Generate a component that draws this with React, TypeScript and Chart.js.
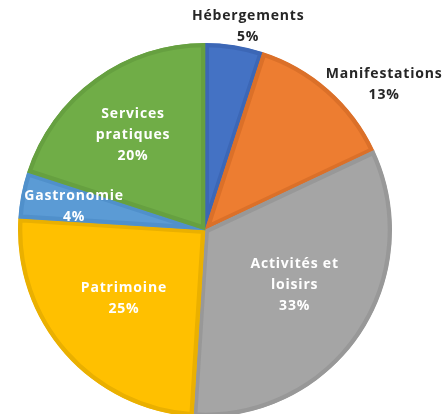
import React, { useEffect, useRef } from "react";
import { Chart, registerables } from "chart.js";

Chart.register(...registerables);

const categories = ["Hébergements", "Manifestations", "Activités et loisirs", "Patrimoine", "Gastronomie", "Services pratiques"];
const labelLines = [["Hébergements"], ["Manifestations"], ["Activités et", "loisirs"], ["Patrimoine"], ["Gastronomie"], ["Services", "pratiques"]];
const values = [5, 13, 33, 25, 4, 20];

const fills = ["#4472C4", "#ED7D31", "#A5A5A5", "#FFC000", "#5B9BD5", "#70AD47"];
const borders = ["#3C67B6", "#DB7029", "#989898", "#EAB000", "#5090CB", "#66A040"];
const textColors = ["#262626", "#262626", "#FFFFFF", "#FFFFFF", "#FFFFFF", "#FFFFFF"];
// label placement: radius factor and nudge
const labelPlace = [
  [1.1, 11, 0],
  [1.23, 27, 27],
  [0.56, 3, -4],
  [0.578, 0, -3],
  [0.713, 0, 1],
  [0.655, 0, 4],
];

const labelPlugin = {
  id: "sliceLabels",
  afterDatasetsDraw(chart: any) {
    const ctx = chart.ctx;
    const meta = chart.getDatasetMeta(0);
    const total = values.reduce((a, b) => a + b, 0);
    ctx.save();
    ctx.font = "bold 14px 'Open Sans'";
    (ctx as any).letterSpacing = "0.8px";
    ctx.textAlign = "center";
    ctx.textBaseline = "middle";
    meta.data.forEach((arc: any, i: number) => {
      const p = arc.getProps(["x", "y", "startAngle", "endAngle", "outerRadius"], true);
      const mid = (p.startAngle + p.endAngle) / 2;
      const [f, dx, dy] = labelPlace[i];
      const cx = p.x + Math.cos(mid) * p.outerRadius * f + dx;
      const cy = p.y + Math.sin(mid) * p.outerRadius * f + dy;
      const lines = [...labelLines[i], Math.round((values[i] / total) * 100) + "%"];
      const lh = 21;
      const y0 = cy - ((lines.length - 1) * lh) / 2;
      ctx.fillStyle = textColors[i];
      lines.forEach((l, j) => ctx.fillText(l, cx, y0 + j * lh));
    });
    ctx.restore();
  },
};

export default function App() {
  const ref = useRef<HTMLCanvasElement>(null);
  useEffect(() => {
    if (!ref.current) return;
    const chart = new Chart(ref.current, {
      type: "pie",
      data: {
        labels: categories,
        datasets: [
          {
            data: values,
            backgroundColor: fills,
            borderColor: borders,
            borderWidth: 4,
            borderAlign: "inner",
            radius: 187,
          } as any,
        ],
      },
      options: {
        animation: false,
        responsive: false,
        layout: { padding: { left: 18, right: 52, top: 46, bottom: 0 } },
        plugins: { legend: { display: false }, tooltip: { enabled: false } },
      },
      plugins: [labelPlugin],
    });
    return () => chart.destroy();
  }, []);
  return (
    <div style={{ position: "fixed", left: 0, top: 0, width: 444, height: 414, background: "#fff" }}>
      <canvas ref={ref} width={444} height={414} style={{ width: 444, height: 414 }} />
    </div>
  );
}
